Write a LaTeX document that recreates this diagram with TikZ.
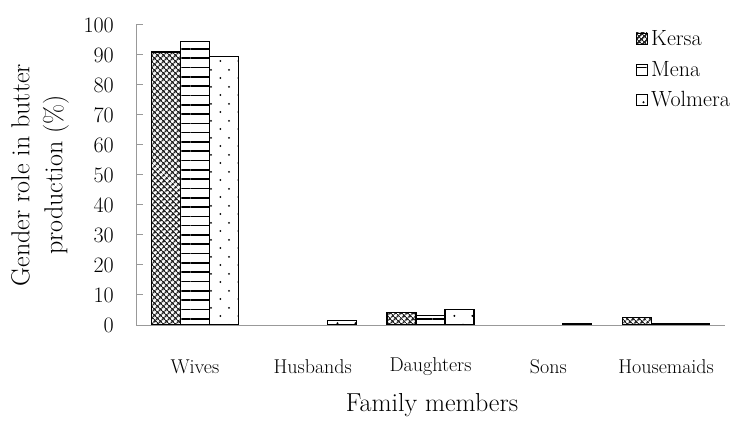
\documentclass[tikz,border=0pt]{standalone}
\usetikzlibrary{patterns, patterns.meta, positioning}

% sparse staggered dots for the Wolmera bars
\pgfdeclarepattern{
  name=sparsedots,
  type=uncolored,
  bottom left={\pgfpoint{0pt}{0pt}},
  top right={\pgfpoint{18pt}{17pt}},
  tile size={\pgfpoint{18pt}{17pt}},
  code={
    \pgfpathcircle{\pgfpoint{4.5pt}{4.25pt}}{1.1pt}
    \pgfpathcircle{\pgfpoint{13.5pt}{12.75pt}}{1.1pt}
    \pgfusepath{fill}
  }
}

\begin{document}
\begin{tikzpicture}[
    x=1pt, y=1pt,
    axisline/.style={gray!80, line width=1pt},
    ticklab/.style={anchor=east, font=\fontsize{22}{24}\selectfont, inner sep=0pt},
    catlab/.style={font=\fontsize{20}{24}\selectfont},
    kersa/.style={draw=black, line width=1.1pt,
        pattern={Hatch[angle=45, distance=4pt, line width=1.5pt]}, pattern color=black!85},
    mena/.style={draw=black, line width=1.1pt,
        pattern={Lines[angle=0, distance=9.3pt, line width=1.6pt]}, pattern color=black},
    wolmera/.style={draw=black, line width=1.1pt,
        pattern=sparsedots, pattern color=black},
    legtext/.style={anchor=west, font=\fontsize{22}{26}\selectfont, inner sep=1pt},
]
\useasboundingbox (0,0) rectangle (737,421);

% ── Frame of the plot ────────────────────────────────────────────────────────
\def\xo{136}   % left end of plot
\def\yo{96}    % zero line
\def\gw{117.8} % width of one category
\def\bw{29}    % width of one bar

\coordinate (origin) at (\xo,\yo);
\coordinate (ytop)   at (\xo,\yo+300);
\coordinate (xend)   at (725,\yo);

% ── Bars (values in %) ────────────────────────────────────────────────────────
% Kersa
\foreach \i/\v in {0/91, 1/0, 2/4.2, 3/0, 4/2.5}{
    \ifdim\v pt>0pt
      \draw[kersa] (\xo+\gw*\i+\gw/2-1.5*\bw,\yo) rectangle ++(\bw,3*\v);
    \fi
}
% Mena
\foreach \i/\v in {0/94.5, 1/0, 2/3.3, 3/0, 4/0.5}{
    \ifdim\v pt>0pt
      \draw[mena] (\xo+\gw*\i+\gw/2-0.5*\bw,\yo) rectangle ++(\bw,3*\v);
    \fi
}
% Wolmera
\foreach \i/\v in {0/89.5, 1/1.5, 2/5.3, 3/0.5, 4/0.5}{
    \ifdim\v pt>0pt
      \draw[wolmera] (\xo+\gw*\i+\gw/2+0.5*\bw,\yo) rectangle ++(\bw,3*\v);
    \fi
}

% ── Axes ─────────────────────────────────────────────────────────────────────
\draw[axisline] (ytop) -- (origin) -- (xend);
\foreach \t in {0,10,...,100}{
    \draw[axisline] (\xo,\yo+3*\t) -- ++(7,0);
    \node[ticklab] (t\t) at (114,\yo+3*\t) {\t};
}

% ── Category labels ──────────────────────────────────────────────────────────
\foreach \i/\c in {0/Wives, 1/Husbands, 2/Daughters, 3/Sons, 4/Housemaids}{
    \node[catlab] (cat\i) at (\xo+\gw*\i+\gw/2,54) {\c};
}

% ── Axis titles ──────────────────────────────────────────────────────────────
\node[font=\fontsize{26}{31}\selectfont] (xtitle) at (432,16) {Family members};
\node[rotate=90, align=center, font=\fontsize{26}{33}\selectfont] (ytitle)
    at (40,246) {Gender role in butter\\production (\%)};

% ── Legend ───────────────────────────────────────────────────────────────────
\draw[kersa, line width=0.9pt]   (636,377) rectangle ++(11,11);
\draw[mena, line width=0.9pt]    (636,346) rectangle ++(11,11);
\draw[wolmera, line width=0.9pt] (636,316) rectangle ++(11,11);
\node[legtext] (lk) at (650,383) {Kersa};
\node[legtext] (lm) at (650,352) {Mena};
\node[legtext] (lw) at (650,322) {Wolmera};

\end{tikzpicture}
\end{document}
